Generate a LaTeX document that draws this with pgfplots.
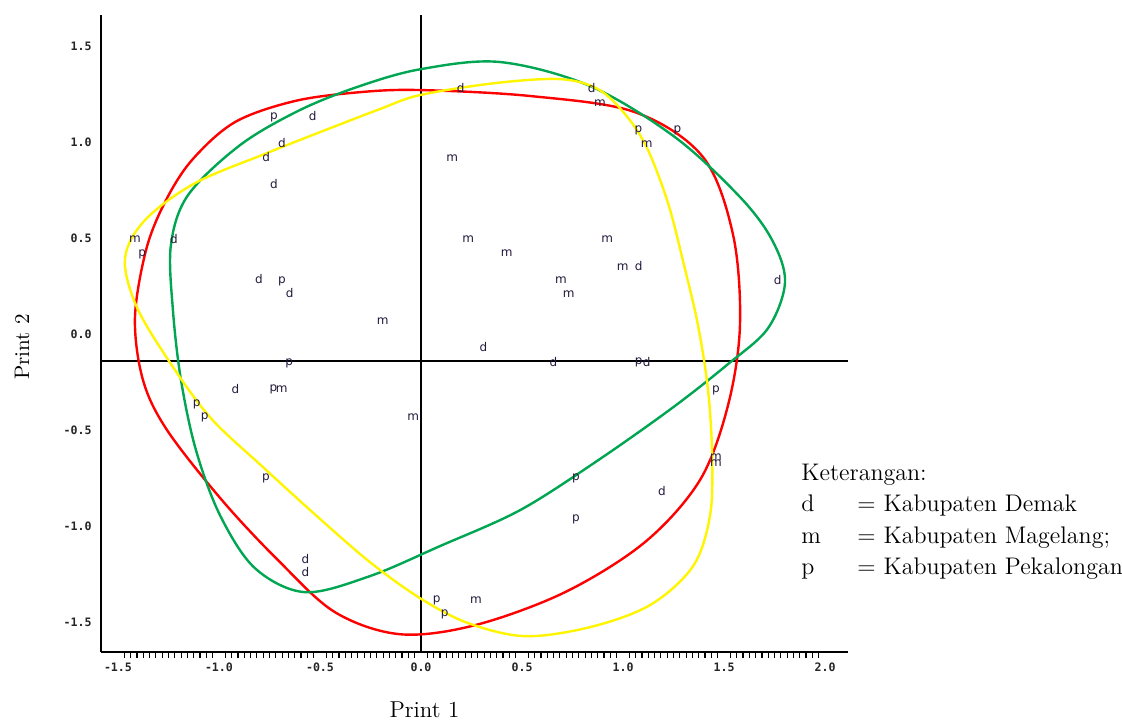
\documentclass[border=0pt]{standalone}
\usepackage{fontspec}
\usepackage{pgfplots}
\pgfplotsset{compat=1.18}
\newfontfamily\tickfont{DejaVu Sans Mono}
\newfontfamily\markfont{DejaVu Sans}
\definecolor{cgreen}{RGB}{0,166,81}
\definecolor{cred}{RGB}{255,0,0}
\definecolor{cyellow}{RGB}{255,245,0}
\definecolor{cmark}{RGB}{35,25,60}
\begin{document}
\begin{tikzpicture}
\begin{axis}[
  x=101pt, y=96pt,
  xmin=-1.584, xmax=2.114, ymin=-1.656, ymax=1.661,
  axis lines=left,
  axis line style={-, line width=1pt, black},
  clip=false,
  xtick={-1.5,-1,-0.5,0,0.5,1,1.5,2},
  ytick={-1.5,-1,-0.5,0,0.5,1,1.5},
  minor x tick num=15,
  major tick length=0pt,
  minor tick length=3pt,
  tick align=outside,
  minor tick style={black, line width=0.6pt},
  xticklabel style={font=\tickfont\bfseries\fontsize{5.8}{7}\selectfont, yshift=-1.8pt, text=black!85},
  yticklabel style={font=\tickfont\bfseries\fontsize{5.8}{7}\selectfont, xshift=-1.2pt, text=black!85},
  /pgf/number format/fixed,
  /pgf/number format/fixed zerofill,
  /pgf/number format/precision=1,
  /pgf/number format/assume math mode=true,
  xlabel={Print 1}, ylabel={Print 2},
  every axis x label/.style={at={(axis description cs:0.4329,-0.1022)}, anchor=base, font=\fontsize{11.5}{14}\selectfont},
  every axis y label/.style={at={(axis description cs:-0.1058,0.479)}, anchor=center, rotate=90, font=\fontsize{10.5}{13}\selectfont},
  text mark as node=true,
  text mark style={font=\markfont\fontsize{6}{7}\selectfont, text=cmark},
]
% group d
\addplot[only marks, mark=text, text mark={d}, color=cmark] coordinates {
(-0.536,1.135) (-0.688,0.993) (-0.766,0.920) (-0.728,0.780) (-1.223,0.495)
(-0.802,0.285) (-0.650,0.212) (0.196,1.280) (0.845,1.280) (1.078,0.354)
(1.766,0.281) (-0.919,-0.285) (-0.572,-1.170) (-0.572,-1.241) (0.309,-0.069)
(0.655,-0.146) (1.117,-0.146) (1.193,-0.816)
};
% group m
\addplot[only marks, mark=text, text mark={m}, color=cmark] coordinates {
(-1.416,0.493) (-0.190,0.069) (0.886,1.201) (1.117,0.990) (0.155,0.918)
(0.234,0.493) (0.922,0.493) (0.424,0.424) (0.998,0.351) (0.693,0.281)
(0.731,0.208) (-0.690,-0.288) (-0.038,-0.431) (1.460,-0.639) (1.460,-0.674)
(0.272,-1.385)
};
% group p
\addplot[only marks, mark=text, text mark={p}, color=cmark] coordinates {
(-0.728,1.130) (-1.380,0.417) (-0.688,0.276) (1.076,1.059) (1.269,1.059)
(-0.652,-0.153) (-0.731,-0.288) (-1.110,-0.365) (-1.071,-0.434) (-0.767,-0.752)
(1.078,-0.146) (1.460,-0.292) (0.767,-0.750) (0.767,-0.965) (0.078,-1.389)
(0.117,-1.458)
};
% reference lines
\addplot[black, line width=1pt] coordinates {(-1.584,-0.141) (2.114,-0.141)};
\addplot[black, line width=1pt] coordinates {(0,-1.656) (0,1.661)};
% red contour
\addplot[cred, line width=1.2pt, smooth cycle, tension=0.55] coordinates {
(-0.005,1.271) (0.540,1.240) (1.059,1.156) (1.396,0.922) (1.545,0.516)
(1.579,0.047) (1.520,-0.370) (1.381,-0.760) (1.109,-1.083) (0.713,-1.344)
(0.267,-1.516) (-0.104,-1.563) (-0.426,-1.448) (-0.708,-1.177) (-0.985,-0.865)
(-1.257,-0.500) (-1.376,-0.240) (-1.416,0.083) (-1.361,0.438) (-1.267,0.688)
(-1.134,0.906) (-0.921,1.104) (-0.624,1.214) (-0.302,1.260)
};
% green contour
\addplot[cgreen, line width=1.2pt, smooth cycle, tension=0.55] coordinates {
(0.000,1.380) (0.391,1.417) (0.837,1.292) (1.257,1.026) (1.579,0.714)
(1.738,0.490) (1.802,0.271) (1.718,0.031) (1.520,-0.156) (1.243,-0.385)
(0.871,-0.661) (0.490,-0.917) (0.094,-1.104) (-0.252,-1.260) (-0.574,-1.344)
(-0.822,-1.219) (-0.995,-0.943) (-1.114,-0.604) (-1.188,-0.240) (-1.228,0.125)
(-1.238,0.464) (-1.153,0.724) (-0.896,0.984) (-0.599,1.167) (-0.302,1.292)
};
% yellow contour
\addplot[cyellow, line width=1.2pt, smooth cycle, tension=0.55] coordinates {
(-0.005,1.245) (0.366,1.307) (0.688,1.328) (0.876,1.276) (1.010,1.146)
(1.119,0.969) (1.223,0.682) (1.302,0.359) (1.371,0.047) (1.421,-0.292)
(1.441,-0.630) (1.431,-0.943) (1.347,-1.208) (1.134,-1.411) (0.837,-1.526)
(0.515,-1.573) (0.233,-1.505) (-0.005,-1.375) (-0.252,-1.188) (-0.510,-0.953)
(-0.787,-0.688) (-1.045,-0.432) (-1.257,-0.125) (-1.411,0.151) (-1.465,0.396)
(-1.366,0.594) (-1.119,0.786) (-0.762,0.943) (-0.436,1.078) (-0.203,1.172)
};
\coordinate (leg) at (axis cs:1.881,-0.760);
\coordinate (bbl) at (axis cs:-2.084,-2.010);
\coordinate (btr) at (axis cs:3.470,1.740);
\end{axis}
\node[anchor=base west, inner sep=0pt, font=\fontsize{12}{15.8}\selectfont] at (leg)
  {\begin{tabular}[t]{@{}l@{}}
   Keterangan:\\
   \makebox[28pt][l]{d}= Kabupaten Demak\\
   \makebox[28pt][l]{m}= Kabupaten Magelang;\\
   \makebox[28pt][l]{p}= Kabupaten Pekalongan
   \end{tabular}};
\pgfresetboundingbox
\path[use as bounding box] (bbl) rectangle (btr);
\end{tikzpicture}
\end{document}
